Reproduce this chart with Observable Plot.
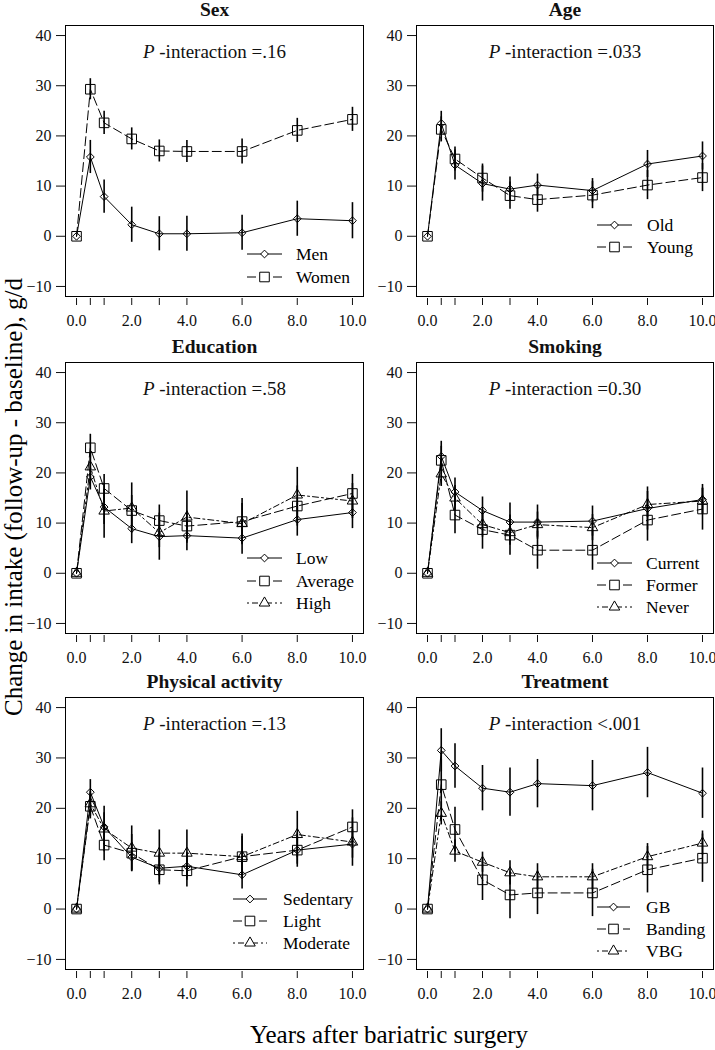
<!DOCTYPE html>
<html><head><meta charset="utf-8">
<script src="https://cdn.jsdelivr.net/npm/d3@7"></script>
<script src="https://cdn.jsdelivr.net/npm/@observablehq/plot@0.6"></script>
<style>
body{margin:0;background:#fff;}
#wrap{position:relative;width:715px;height:1050px;font-family:"Liberation Serif","Times New Roman",serif;color:#000;}
.panel{position:absolute;}
.panel svg{background:transparent !important;overflow:visible;}
#ylab{position:absolute;left:14px;top:497px;width:700px;text-align:center;white-space:nowrap;font-size:25px;transform:translate(-50%,-50%) rotate(-90deg);}
#xlab{position:absolute;left:389px;top:1035px;white-space:nowrap;font-size:25px;transform:translate(-50%,-50%);}
</style></head>
<body><div id="wrap"><div id="ylab">Change in intake (follow-up - baseline), g/d</div><div id="xlab">Years after bariatric surgery</div></div>
<script>
// ---------- data ----------
const years = [0, 0.5, 1, 2, 3, 4, 6, 8, 10];
const xTickLabels = [0, 2, 4, 6, 8, 10];
const yTicks = [-10, 0, 10, 20, 30, 40];

const panelTitles = ["Sex", "Age", "Education", "Smoking", "Physical activity", "Treatment"];
const pValues = ["=.16", "=.033", "=.58", "=0.30", "=.13", "<.001"];

const sexGroups = ["Men", "Women"];
const sexMen   = [0, 15.8, 7.9, 2.3, 0.5, 0.5, 0.7, 3.5, 3.1];
const sexMenCI = [0, 3.3, 3.3, 3.5, 3.4, 3.5, 3.5, 3.5, 3.6];
const sexWomen   = [0, 29.3, 22.6, 19.4, 17.0, 16.9, 16.9, 21.1, 23.3];
const sexWomenCI = [0, 2.1, 2.3, 2.2, 2.2, 2.2, 2.5, 2.4, 2.4];

const ageGroups = ["Old", "Young"];
const ageOld   = [0, 22.5, 14.2, 10.5, 9.4, 10.2, 9.1, 14.4, 16.0];
const ageOldCI = [0, 2.4, 3.0, 3.5, 2.4, 2.2, 2.4, 2.7, 2.8];
const ageYoung   = [0, 21.3, 15.4, 11.6, 8.1, 7.3, 8.2, 10.2, 11.7];
const ageYoungCI = [0, 2.5, 2.4, 2.8, 2.7, 2.5, 2.7, 2.9, 2.8];

const eduGroups = ["Low", "Average", "High"];
const eduLow   = [0, 19.2, 13.2, 8.9, 7.3, 7.5, 7.0, 10.7, 12.1];
const eduLowCI = [0, 2.6, 3.5, 3.0, 4.7, 3.0, 3.2, 3.3, 3.2];
const eduAverage   = [0, 25.0, 16.9, 12.5, 10.5, 9.4, 10.3, 13.4, 15.9];
const eduAverageCI = [0, 2.7, 2.8, 3.0, 3.1, 3.0, 4.6, 4.0, 3.8];
const eduHigh   = [0, 21.2, 12.4, 13.0, 8.1, 11.2, 9.9, 15.6, 14.4];
const eduHighCI = [0, 2.8, 5.4, 5.0, 3.0, 5.2, 4.0, 5.5, 3.5];

const smokeGroups = ["Current", "Former", "Never"];
const smokeCurrent   = [0, 23.3, 16.2, 12.5, 10.2, 10.2, 10.4, 12.9, 14.7];
const smokeCurrentCI = [0, 3.0, 2.8, 2.7, 3.8, 3.4, 3.0, 4.3, 3.0];
const smokeFormer   = [0, 22.5, 11.6, 8.7, 7.6, 4.6, 4.6, 10.6, 12.8];
const smokeFormerCI = [0, 2.8, 3.7, 3.9, 4.0, 3.8, 4.0, 4.2, 4.2];
const smokeNever   = [0, 19.8, 15.0, 9.7, 8.1, 9.7, 9.1, 13.7, 14.4];
const smokeNeverCI = [0, 2.5, 2.5, 2.5, 2.5, 2.5, 2.6, 2.6, 2.5];

const paGroups = ["Sedentary", "Light", "Moderate"];
const paSedentary   = [0, 23.2, 16.3, 10.3, 8.1, 8.5, 6.8, 11.7, 12.9];
const paSedentaryCI = [0, 2.5, 2.8, 2.8, 2.8, 2.8, 2.8, 2.8, 2.8];
const paLight   = [0, 20.4, 12.7, 11.1, 7.8, 7.6, 10.4, 11.7, 16.3];
const paLightCI = [0, 2.5, 3.1, 3.7, 3.0, 3.2, 4.0, 3.4, 3.4];
const paModerate   = [0, 20.9, 15.9, 12.1, 11.1, 11.1, 10.4, 14.8, 13.3];
const paModerateCI = [0, 2.5, 4.5, 4.4, 4.6, 4.6, 4.5, 4.6, 4.8];

const trtGroups = ["GB", "Banding", "VBG"];
const trtGB   = [0, 31.5, 28.4, 24.0, 23.2, 24.9, 24.5, 27.1, 23.0];
const trtGBCI = [0, 4.3, 4.4, 4.5, 4.8, 4.8, 5.0, 5.0, 5.0];
const trtBanding   = [0, 24.7, 15.8, 5.8, 2.8, 3.2, 3.2, 7.8, 10.1];
const trtBandingCI = [0, 5.0, 4.4, 4.1, 4.7, 4.3, 4.7, 4.6, 4.8];
const trtVBG   = [0, 19.0, 11.5, 9.3, 7.2, 6.4, 6.4, 10.4, 13.1];
const trtVBGCI = [0, 2.3, 2.2, 2.0, 2.4, 2.6, 2.6, 2.6, 2.4];

// ---------- styles & layout ----------
const FONT = '"Liberation Serif","Times New Roman",serif';
const seriesStyle = [
  {symbol: "diamond2", d3sym: d3.symbolDiamond2, r: 3.5, dash: null},
  {symbol: "square", d3sym: d3.symbolSquare, r: 5.4, dash: "9,4"},
  {symbol: "triangle", d3sym: d3.symbolTriangle, r: 3.9, dash: "2,3,6,3"}
];
const cols = [{left: 0, width: 365, mL: 65, mR: 2}, {left: 365, width: 350, mL: 51, mR: 2}];
const rowsL = [{top: 0, height: 335, mT: 25, mB: 39}, {top: 335, height: 336, mT: 27, mB: 38}, {top: 671, height: 340, mT: 26, mB: 42}];
// legend: offsets from frame right edge (line start, line end, text start) and from frame bottom (rows)
const legendLayout = [
  {x0: -116, x1: -81, tx: -67, rows: [-42, -19]},
  {x0: -116, x1: -81, tx: -66, rows: [-71, -49]},
  {x0: -116, x1: -81, tx: -67, rows: [-75, -52, -30]},
  {x0: -116, x1: -81, tx: -67, rows: [-70, -48, -26]},
  {x0: -130, x1: -96, tx: -80, rows: [-70, -48, -26]},
  {x0: -116, x1: -83, tx: -67, rows: [-62, -40, -18]}
];

const panels = [
  {groups: sexGroups, values: [sexMen, sexWomen], cis: [sexMenCI, sexWomenCI]},
  {groups: ageGroups, values: [ageOld, ageYoung], cis: [ageOldCI, ageYoungCI]},
  {groups: eduGroups, values: [eduLow, eduAverage, eduHigh], cis: [eduLowCI, eduAverageCI, eduHighCI]},
  {groups: smokeGroups, values: [smokeCurrent, smokeFormer, smokeNever], cis: [smokeCurrentCI, smokeFormerCI, smokeNeverCI]},
  {groups: paGroups, values: [paSedentary, paLight, paModerate], cis: [paSedentaryCI, paLightCI, paModerateCI]},
  {groups: trtGroups, values: [trtGB, trtBanding, trtVBG], cis: [trtGBCI, trtBandingCI, trtVBGCI]}
];

const wrap = document.getElementById("wrap");

panels.forEach((pan, k) => {
  const col = cols[k % 2], row = rowsL[Math.floor(k / 2)];
  const data = [];
  pan.groups.forEach((g, i) => years.forEach((x, j) => data.push({g, i, x, y: pan.values[i][j], ci: pan.cis[i][j]})));
  const marks = [
    Plot.frame({stroke: "black", strokeWidth: 1}),
    Plot.axisY({ticks: yTicks, tickSize: 9, tickPadding: 5, label: null, fontSize: 16}),
    Plot.axisX({ticks: years, tickSize: 7, dy: 2, tickPadding: 9, label: null, fontSize: 16,
      tickFormat: d => xTickLabels.includes(d) ? d.toFixed(1) : ""}),
    Plot.text([panelTitles[k]], {frameAnchor: "top", dy: -16, lineAnchor: "middle", fontWeight: "bold", fontSize: 19.5, text: d => d}),
    Plot.text([pValues[k]], {frameAnchor: "top", dy: 26, lineAnchor: "middle", fontSize: 19, text: d => "P -interaction " + d})
  ];
  pan.groups.forEach((g, i) => {
    const d = data.filter(r => r.i === i);
    const st = seriesStyle[i];
    marks.push(Plot.ruleX(d.filter(r => r.ci > 0), {x: "x", y1: r => r.y - r.ci, y2: r => r.y + r.ci, stroke: "black", strokeWidth: 1.6}));
    marks.push(Plot.line(d, {x: "x", y: "y", stroke: "black", strokeWidth: 1, strokeDasharray: st.dash}));
    marks.push(Plot.dot(d, {x: "x", y: "y", symbol: st.symbol, r: st.r, stroke: "black", fill: "none", strokeWidth: 1}));
  });
  const plot = Plot.plot({
    width: col.width, height: row.height,
    marginLeft: col.mL, marginRight: col.mR, marginTop: row.mT, marginBottom: row.mB,
    x: {domain: [-0.4, 10.4]},
    y: {domain: [-12, 42]},
    style: {fontFamily: FONT, fontSize: "16px", color: "#111", background: "transparent", overflow: "visible"},
    marks
  });
  // italic P
  d3.select(plot).selectAll("text").each(function() {
    if (!this.textContent.startsWith("P -interaction")) return;
    const s = this.textContent.slice(1);
    this.textContent = "";
    d3.select(this).append("tspan").attr("font-style", "italic").text("P");
    d3.select(this).append("tspan").text(s);
  });
  // legend
  const L = legendLayout[k];
  const right = col.width - col.mR, bottom = row.height - row.mB;
  const lg = d3.select(plot).append("g").attr("font-family", FONT).attr("font-size", 17.5).attr("text-anchor", "start");
  pan.groups.forEach((g, i) => {
    const st = seriesStyle[i];
    const y = bottom + L.rows[i];
    lg.append("line").attr("x1", right + L.x0).attr("x2", right + L.x1).attr("y1", y).attr("y2", y)
      .attr("stroke", "black").attr("stroke-width", 1).attr("stroke-dasharray", st.dash);
    lg.append("path").attr("d", d3.symbol(st.d3sym, Math.PI * st.r * st.r)())
      .attr("transform", `translate(${right + (L.x0 + L.x1) / 2},${y})`)
      .attr("fill", "white").attr("stroke", "black").attr("stroke-width", 1);
    lg.append("text").attr("x", right + L.tx).attr("y", y).attr("dy", "0.35em").attr("fill", "black").text(g);
  });
  const div = document.createElement("div");
  div.className = "panel";
  div.style.left = col.left + "px";
  div.style.top = row.top + "px";
  div.appendChild(plot);
  wrap.appendChild(div);
});
</script>
</body></html>
